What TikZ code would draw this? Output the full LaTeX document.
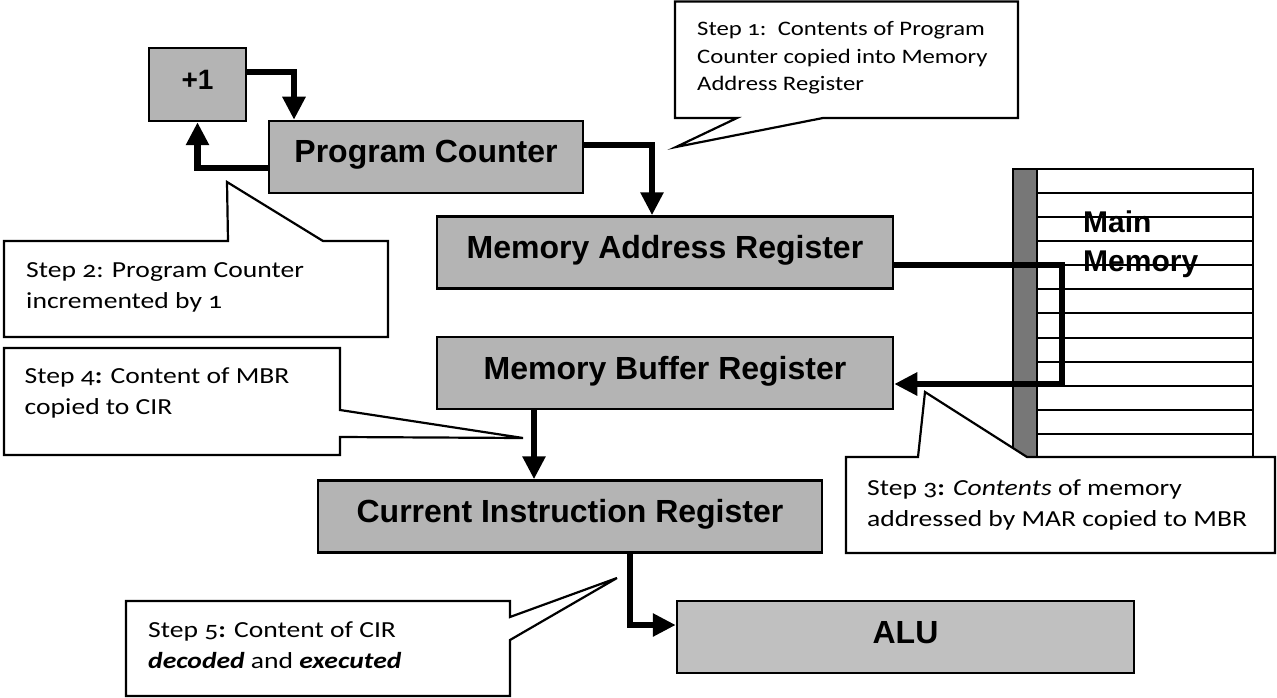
\documentclass[tikz,border=0pt]{standalone}
\usepackage{fontspec}
\setmainfont{Carlito}[Numbers=OldStyle, FakeStretch=1.2]
\newfontfamily\boxfont{Liberation Sans}
\usetikzlibrary{arrows.meta}

\definecolor{regfill}{HTML}{B4B4B4}
\definecolor{alufill}{HTML}{C0C0C0}
\definecolor{busbar}{HTML}{777777}

\begin{document}
\begin{tikzpicture}[x=1pt, y=-1pt,
  reg/.style={draw, line width=2.5pt, fill=regfill, inner sep=0pt,
    minimum height=72pt, font=\boxfont\bfseries\fontsize{32}{36}\selectfont,
    text height=23pt, text depth=11pt},
  flow/.style={line width=6.5pt, -{Triangle[length=23pt,width=22pt]}},
  callout/.style={draw, line width=2.2pt, fill=white, line join=miter},
  % multi-line notes: the base anchor sits on the last line
  note/.style={anchor=base west, inner sep=0pt, align=left,
    font=\fontsize{23}{31}\selectfont},
]
\useasboundingbox (0,0) rectangle (1277,698);

% main memory: address bar and rows of cells
\fill[busbar] (1013,169) rectangle (1037,482);
\foreach \k in {1,...,12}
  \draw[line width=2pt] (1037,{169+24.08*\k}) -- (1253,{169+24.08*\k});
\draw[line width=2pt] (1013,169) rectangle (1037,482);
\draw[line width=2pt] (1013,169) rectangle (1253,482);

% registers
\node[reg, minimum width=97pt, minimum height=73pt,
  font=\boxfont\bfseries\fontsize{28}{32}\selectfont,
  text height=20pt, text depth=9pt] (plus) at (197.5,84.5) {+1};
\node[reg, minimum width=314pt] (pc)  at (426,157)   {Program Counter};
\node[reg, minimum width=456pt] (mar) at (665,252.5) {Memory Address Register};
\node[reg, minimum width=456pt] (mbr) at (665,373)   {Memory Buffer Register};
\node[reg, minimum width=504pt] (cir) at (570,516.5) {Current Instruction Register};
\node[reg, minimum width=457pt, fill=alufill] (alu) at (905.5,637) {ALU};

% data flow
\draw[flow] ([yshift=12.5pt]plus.east) -| ([xshift=-132pt]pc.north);
\draw[flow] ([yshift=-11pt]pc.west) -| (plus.south);
\draw[flow] ([yshift=12pt]pc.east) -| ([xshift=-13pt]mar.north);
\coordinate (bus) at (1062,384);
\draw[flow] ([yshift=-12.5pt]mar.east) -| (bus) -- ([yshift=-11pt]mbr.east);
\coordinate (mbrout) at ([xshift=-131pt]mbr.south);
\draw[flow] (mbrout) -- (mbrout |- cir.north);
\draw[flow] ([xshift=60pt]cir.south) |- ([yshift=12pt]alu.west);

\node[anchor=base west, inner sep=0pt, align=left,
  font=\boxfont\bfseries\fontsize{30}{39}\selectfont] (mmlabel) at (1083,271) {Main\\Memory};

% step callouts
\draw[callout] (675,1.5) -- (1018,1.5) -- (1018,118) -- (823,118) -- (676,147)
  -- (737,118) -- (675,118) -- cycle;
\node[note, font=\fontsize{20.6}{27.5}\selectfont] (s1) at (697,91)
  {Step 1:\ \ Contents of Program\\Counter copied into Memory\\Address Register};

\draw[callout] (4,241) -- (228,241) -- (227,182) -- (323,241) -- (388,241)
  -- (388,337) -- (4,337) -- cycle;
\node[note] (s2) at (26,308) {Step 2: Program Counter\\incremented by 1};

\draw[callout] (846,457) -- (918,457) -- (925,392) -- (1027,457) -- (1275,457)
  -- (1275,553) -- (846,553) -- cycle;
\node[note] (s3) at (867,526)
  {Step 3\textbf{:} \textit{Contents} of memory\\addressed by MAR copied to MBR};

\draw[callout] (4,348) -- (340,348) -- (340,410) -- (523,438) -- (340,437)
  -- (340,455) -- (4,455) -- cycle;
\node[note] (s4) at (24.5,414) {Step 4\textbf{:} Content of MBR\\copied to CIR};

\draw[callout] (126,601) -- (510,601) -- (510,617) -- (617,578) -- (510,640)
  -- (510,696) -- (126,696) -- cycle;
\node[note] (s5) at (148,668)
  {Step 5\textbf{:} Content of CIR\\\textbf{\textit{decoded}} and \textbf{\textit{executed}}};
\end{tikzpicture}
\end{document}
